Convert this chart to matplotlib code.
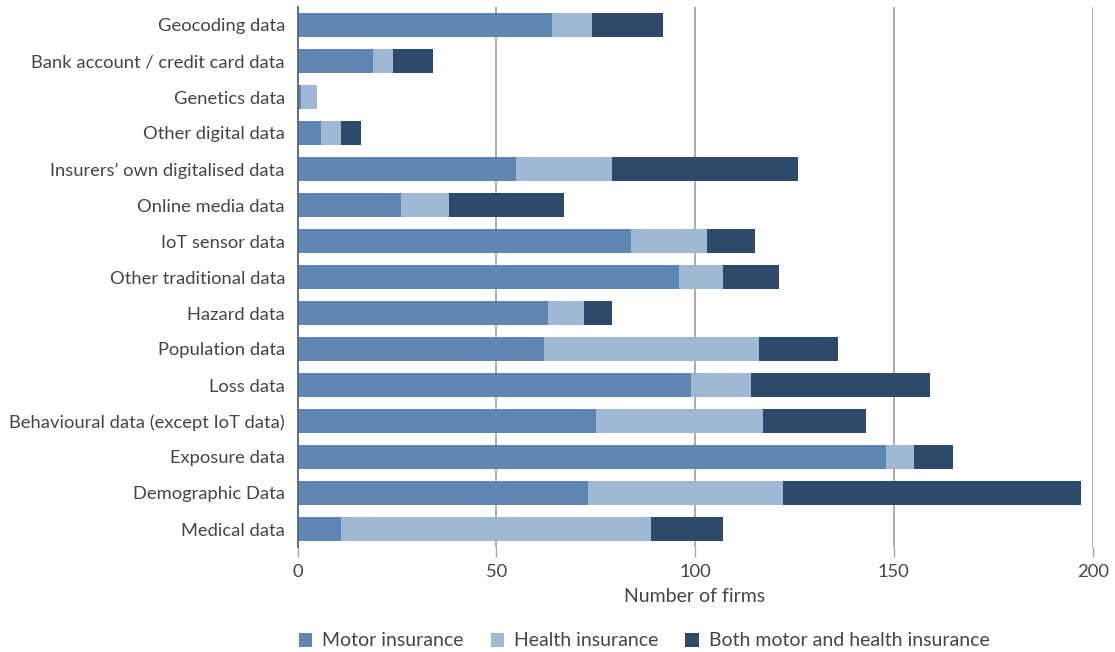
import matplotlib
matplotlib.use("Agg")
import matplotlib.pyplot as plt
from matplotlib.patches import Patch

categories = [
    "Geocoding data", "Bank account / credit card data", "Genetics data",
    "Other digital data", "Insurers\u2019 own digitalised data", "Online media data",
    "IoT sensor data", "Other traditional data", "Hazard data", "Population data",
    "Loss data", "Behavioural data (except IoT data)", "Exposure data",
    "Demographic Data", "Medical data",
]
motor = [64, 19, 1, 6, 55, 26, 84, 96, 63, 62, 99, 75, 148, 73, 11]
health = [10, 5, 4, 5, 24, 12, 19, 11, 9, 54, 15, 42, 7, 49, 78]
both = [18, 10, 0, 5, 47, 29, 12, 14, 7, 20, 45, 26, 10, 75, 18]
series_names = ["Motor insurance", "Health insurance", "Both motor and health insurance"]
xticks = [0, 50, 100, 150, 200]

colors = ["#5D87B0", "#9FB9D4", "#2E4A6A"]
plt.rcParams['font.family'] = ['Lato', 'DejaVu Sans']
plt.rcParams['font.weight'] = 'normal'
text_color = "#454545"

W, H = 1115, 652
fig = plt.figure(figsize=(W / 100, H / 100), dpi=100)
ax = fig.add_axes([297.5 / W, 1 - 547 / H, (1092.6 - 297.5) / W, (547 - 7) / H])

y = list(range(len(categories)))
left = [0] * len(categories)
for vals, c, name in zip([motor, health, both], colors, series_names):
    ax.barh(y, vals, left=left, height=0.667, color=c, label=name, zorder=3)
    left = [a + b for a, b in zip(left, vals)]

ax.set_xlim(0, 200)
ax.set_ylim(len(categories) - 0.5, -0.5)
ax.set_yticks(y)
ax.set_yticklabels(categories, fontsize=13.25, color=text_color)
ax.set_xticks(xticks)
ax.set_xticklabels([str(t) for t in xticks], fontsize=13.25, color=text_color)
ax.tick_params(axis='y', length=0, pad=9)
ax.tick_params(axis='x', length=7, width=1, color="#a6a6a6", pad=5, direction='out')
ax.grid(axis='x', color="#a6a6a6", linewidth=1.3, zorder=0)
for s in ['top', 'right', 'bottom']:
    ax.spines[s].set_visible(False)
ax.spines['left'].set_color("#5a6470")
ax.spines['left'].set_linewidth(1.3)
ax.spines['left'].set_zorder(4)
ax.set_xlabel("Number of firms", fontsize=14, color=text_color, labelpad=6,
              fontweight='normal')

handles = [Patch(facecolor=c, edgecolor='none') for c in colors]
fig.legend(handles, series_names, loc='center left',
           bbox_to_anchor=(281 / W, 1 - 641 / H), ncol=3, frameon=False,
           fontsize=14, handlelength=0.7, handleheight=0.7, handletextpad=0.5,
           columnspacing=1.4, labelcolor=text_color)

fig.savefig("out.png", dpi=100)
